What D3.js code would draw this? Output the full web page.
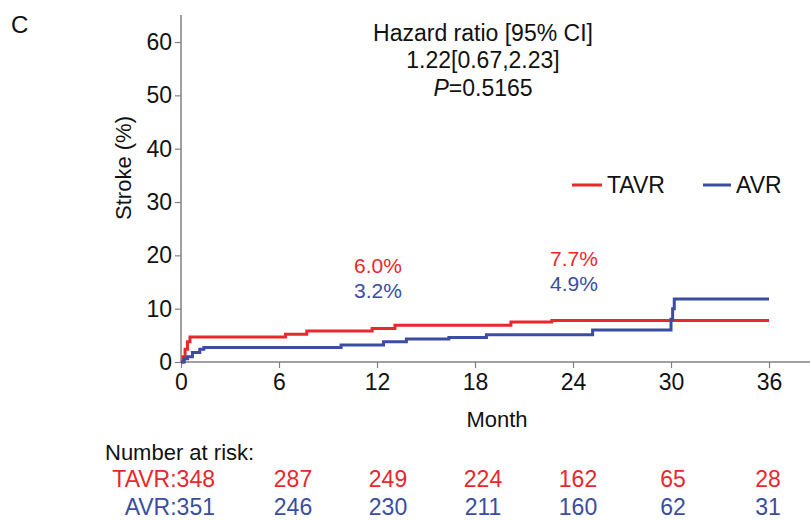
<html>
<head>
<meta charset="utf-8">
<style>
  body { margin: 0; background: #fff; }
  text { font-family: "Liberation Sans", Arial, sans-serif; }
</style>
<script src="https://d3js.org/d3.v7.min.js"></script>
</head>
<body>
<div id="chartContainer"></div>
<script type="text/javascript">
  // step points: [month, stroke %]
  var tavrSteps = [[0,0],[0.12,1.0],[0.25,2.4],[0.4,3.8],[0.55,4.7],[6.4,5.2],[7.7,5.8],[11.7,6.3],[13.1,6.9],[20.2,7.5],[22.7,7.8],[36,7.8]];
  var avrSteps = [[0,0],[0.2,0.6],[0.4,1.0],[0.7,1.8],[1.15,2.4],[1.4,2.7],[9.8,3.2],[12.4,3.8],[13.8,4.3],[16.4,4.6],[18.7,5.1],[25.2,6.0],[30.0,8.0],[30.1,10.0],[30.2,11.8],[36,11.8]];

  var xTicks = [0, 6, 12, 18, 24, 30, 36];
  var yTicks = [0, 10, 20, 30, 40, 50, 60];

  var tavrAtRisk = [348, 287, 249, 224, 162, 65, 28];
  var avrAtRisk = [351, 246, 230, 211, 160, 62, 31];

  var hazardLines = ["Hazard ratio [95% CI]", "1.22[0.67,2.23]", "=0.5165"];
  // estimates printed on the plot: [month, TAVR %, AVR %]
  var rateLabels = [[12, "6.0%", "3.2%"], [24, "7.7%", "4.9%"]];

  var red = "#e8282c", blue = "#3a4da0", axisCol = "#808080";

  var svg = d3.select("#chartContainer").append("svg")
    .attr("width", 810).attr("height", 521);

  var x = d3.scaleLinear().domain([0, 36]).range([181, 769]);
  var y = d3.scaleLinear().domain([0, 60]).range([362, 42]);
  // the at-risk columns are spread evenly, not exactly under the ticks
  var riskX = d3.scalePoint().domain(xTicks.slice(1)).range([293, 768]);

  // axes
  var xAxis = svg.append("g").attr("transform", "translate(0,362)")
    .call(d3.axisBottom(x).tickValues(xTicks).tickSize(6).tickPadding(6).tickSizeOuter(0));
  xAxis.select(".domain").attr("d", "M181,0H810");
  var yAxis = svg.append("g").attr("transform", "translate(181,0)")
    .call(d3.axisLeft(y).tickValues(yTicks).tickSize(6).tickPadding(3).tickSizeOuter(0));
  yAxis.select(".domain").attr("d", "M0,362V15");
  svg.selectAll(".domain").attr("stroke", axisCol).attr("stroke-width", 1.5);
  svg.selectAll(".tick line").attr("stroke", axisCol).attr("stroke-width", 1.2);
  svg.selectAll(".tick text").attr("fill", "#111").style("font-size", "23px")
    .style("font-family", "'Liberation Sans', Arial, sans-serif");

  svg.append("text").attr("x", 497).attr("y", 427).attr("text-anchor", "middle")
    .style("font-size", "22px").attr("fill", "#111").text("Month");
  svg.append("text").attr("transform", "translate(131,168) rotate(-90)")
    .attr("text-anchor", "middle").style("font-size", "22px").attr("fill", "#111").text("Stroke (%)");
  svg.append("text").attr("x", 11).attr("y", 33).style("font-size", "24px").attr("fill", "#111").text("C");

  // curves
  var line = d3.line().x(function (d) { return x(d[0]); }).y(function (d) { return y(d[1]); })
    .curve(d3.curveStepAfter);
  svg.append("path").datum(tavrSteps).attr("d", line)
    .attr("fill", "none").attr("stroke", red).attr("stroke-width", 3);
  svg.append("path").datum(avrSteps).attr("d", line)
    .attr("fill", "none").attr("stroke", blue).attr("stroke-width", 3);

  // hazard ratio text
  var hz = svg.append("g").style("font-size", "23px").attr("fill", "#111").attr("text-anchor", "middle");
  hz.append("text").attr("x", 483).attr("y", 41).text(hazardLines[0]);
  hz.append("text").attr("x", 483).attr("y", 68).text(hazardLines[1]);
  var p = hz.append("text").attr("x", 483).attr("y", 96);
  p.append("tspan").style("font-style", "italic").text("P");
  p.append("tspan").text(hazardLines[2]);

  // legend
  svg.append("line").attr("x1", 572).attr("x2", 602).attr("y1", 185).attr("y2", 185)
    .attr("stroke", red).attr("stroke-width", 3);
  svg.append("text").attr("x", 607).attr("y", 193).style("font-size", "23px").attr("fill", "#111").text("TAVR");
  svg.append("line").attr("x1", 703).attr("x2", 731).attr("y1", 185).attr("y2", 185)
    .attr("stroke", blue).attr("stroke-width", 3);
  svg.append("text").attr("x", 736).attr("y", 193).style("font-size", "23px").attr("fill", "#111").text("AVR");

  // rate labels
  rateLabels.forEach(function (r, i) {
    var top = i === 0 ? 273 : 266;
    svg.append("text").attr("x", x(r[0]) + 1).attr("y", top).attr("text-anchor", "middle")
      .style("font-size", "21px").attr("fill", red).text(r[1]);
    svg.append("text").attr("x", x(r[0]) + 1).attr("y", top + 25).attr("text-anchor", "middle")
      .style("font-size", "21px").attr("fill", blue).text(r[2]);
  });

  // number at risk
  svg.append("text").attr("x", 105).attr("y", 460).style("font-size", "22px").attr("fill", "#111")
    .text("Number at risk:");
  svg.selectAll("tavr_risk").data(tavrAtRisk).enter().append("text")
    .attr("x", function (d, i) { return i === 0 ? 215 : riskX(xTicks[i]); })
    .attr("y", 487)
    .attr("text-anchor", function (d, i) { return i === 0 ? "end" : "middle"; })
    .style("font-size", "23px").attr("fill", red)
    .text(function (d, i) { return i === 0 ? "TAVR:" + d : d; });
  svg.selectAll("avr_risk").data(avrAtRisk).enter().append("text")
    .attr("x", function (d, i) { return i === 0 ? 215 : riskX(xTicks[i]); })
    .attr("y", 515)
    .attr("text-anchor", function (d, i) { return i === 0 ? "end" : "middle"; })
    .style("font-size", "23px").attr("fill", blue)
    .text(function (d, i) { return i === 0 ? "AVR:" + d : d; });
</script>
</body>
</html>
